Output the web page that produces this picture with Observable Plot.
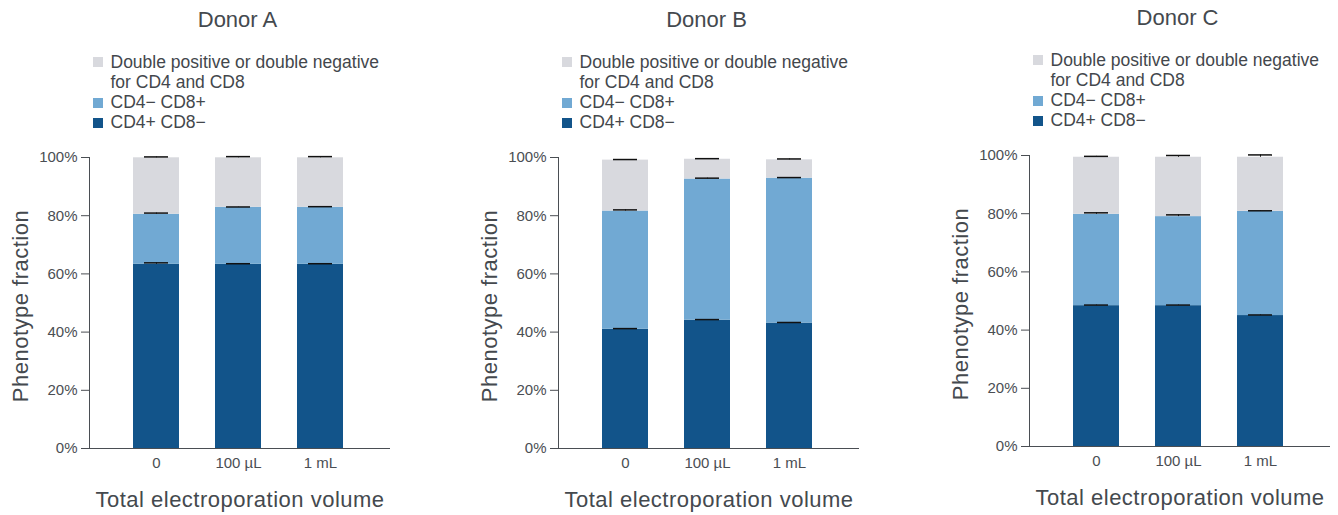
<!DOCTYPE html>
<html>
<head>
<meta charset="utf-8">
<script src="https://cdn.jsdelivr.net/npm/d3@7"></script>
<script src="https://cdn.jsdelivr.net/npm/@observablehq/plot@0.6"></script>
<style>
  body { margin: 0; background: #fff; font-family: "Liberation Sans", Arial, Helvetica, sans-serif; }
  #wrap { position: relative; width: 1338px; height: 515px; overflow: hidden; }
  .panel { position: absolute; top: 0; width: 398px; height: 515px; }
  .title { position: absolute; left: 87px; width: 301px; top: 9px; text-align: center;
           font-size: 22px; line-height: 22px; color: #44494e; white-space: nowrap; }
  .legend { position: absolute; left: 92.5px; top: 51.5px; font-size: 17.5px; line-height: 20.3px;
            color: #43474c; white-space: nowrap; }
  .item { position: relative; padding-left: 18px; }
  .sw { position: absolute; left: 0; top: 5.8px; width: 10px; height: 10px; }
  .chart g[aria-label="text"] text { letter-spacing: 0.5px; }
</style>
</head>
<body>
<div id="wrap"></div>
<script>
// Groups and categories
const donors = ["Donor A", "Donor B", "Donor C"];
const volumes = ["0", "100 µL", "1 mL"];
const phenotypes = ["CD4+ CD8−", "CD4− CD8+", "Double positive or double negative for CD4 and CD8"];
const legendLabels = ["Double positive or double negative<br>for CD4 and CD8", "CD4− CD8+", "CD4+ CD8−"];
const phenotypeColors = ["#12548a", "#71a9d3", "#d8d9de"];

// Phenotype fractions (%) per donor, one value per electroporation volume
const cd4PosCd8Neg = [[63.3, 63.3, 63.3], [41.0, 44.1, 43.1], [48.4, 48.4, 45.0]];
const cd4NegCd8Pos = [[17.2, 19.6, 19.6], [40.6, 48.5, 49.8], [31.4, 30.6, 35.8]];
const doublePosNeg = [[19.4, 17.0, 17.0], [17.5, 6.8, 6.3], [19.6, 20.4, 18.6]];

// Upper error (SD, %) for each segment
const cd4PosCd8NegErr = [[0.5, 0.2, 0.2], [0.2, 0.2, 0.2], [0.2, 0.2, 0.2]];
const cd4NegCd8PosErr = [[0.4, 0.1, 0.2], [0.4, 0.3, 0.2], [0.5, 0.6, 0.2]];
const doublePosNegErr = [[0.3, 0.4, 0.4], [0.2, 0.2, 0.3], [0.3, 0.6, 0.8]];

const yTicks = [0, 20, 40, 60, 80, 100];
const yLabel = "Phenotype fraction";
const xLabel = "Total electroporation volume";

const panelLeft = [0, 469, 940];
const panelTop = [0, 0, -2];

const series = [cd4PosCd8Neg, cd4NegCd8Pos, doublePosNeg];
const seriesErr = [cd4PosCd8NegErr, cd4NegCd8PosErr, doublePosNegErr];

const wrap = document.getElementById("wrap");

donors.forEach((donor, di) => {
  const rows = [];
  const errs = [];
  volumes.forEach((vol, vi) => {
    let cum = 0;
    phenotypes.forEach((ph, pi) => {
      const v = series[pi][di][vi];
      rows.push({volume: vol, phenotype: ph, value: v});
      cum += v;
      errs.push({volume: vol, top: cum, sd: seriesErr[pi][di][vi]});
    });
  });

  const panel = document.createElement("div");
  panel.className = "panel";
  panel.style.left = panelLeft[di] + "px";
  panel.style.top = panelTop[di] + "px";

  const title = document.createElement("div");
  title.className = "title";
  title.textContent = donor;
  panel.appendChild(title);

  const legend = document.createElement("div");
  legend.className = "legend";
  legendLabels.forEach((lab, i) => {
    const item = document.createElement("div");
    item.className = "item";
    const sw = document.createElement("span");
    sw.className = "sw";
    sw.style.background = phenotypeColors[2 - i];
    item.appendChild(sw);
    const t = document.createElement("span");
    t.innerHTML = lab;
    item.appendChild(t);
    legend.appendChild(item);
  });
  panel.appendChild(legend);

  const chart = Plot.plot({
    width: 398,
    height: 375,
    marginLeft: 89,
    marginRight: 8,
    marginTop: 17,
    marginBottom: 67,
    style: {
      fontFamily: "'Liberation Sans', Arial, Helvetica, sans-serif",
      fontSize: "15px",
      color: "#4a4e53",
      background: "transparent",
      overflow: "visible"
    },
    x: {type: "band", domain: volumes, range: [133, 343], paddingInner: 0.44, paddingOuter: 0,
        label: null, tickSize: 0, tickPadding: 9},
    y: {domain: [0, 100], ticks: yTicks, tickFormat: d => d + "%", tickSize: 8, tickPadding: 4,
        label: null, line: true},
    color: {domain: phenotypes, range: phenotypeColors},
    marks: [
      Plot.barY(rows, {x: "volume", y: "value", fill: "phenotype", order: phenotypes}),
      Plot.ruleY([0], {stroke: "currentColor", strokeWidth: 1}),
      Plot.ruleX(errs, {x: "volume", y1: "top", y2: d => d.top + d.sd, stroke: "#111", strokeWidth: 1}),
      Plot.tickY(errs, {x: "volume", y: d => d.top + d.sd, stroke: "#111", strokeWidth: 1.5,
                        insetLeft: 11, insetRight: 11}),
      Plot.text([yLabel], {frameAnchor: "left", text: d => d, rotate: -90, textAnchor: "middle",
                           lineAnchor: "middle", dx: -68.5, dy: 3, fontSize: 22, fill: "#44494e"}),
      Plot.text([xLabel], {frameAnchor: "bottom", text: d => d, textAnchor: "middle",
                           lineAnchor: "middle", dy: 51.5, fontSize: 22, fill: "#44494e"})
    ]
  });
  chart.classList.add("chart");
  chart.style.position = "absolute";
  chart.style.left = "0px";
  chart.style.top = "140px";
  panel.appendChild(chart);
  wrap.appendChild(panel);
});
</script>
</body>
</html>
